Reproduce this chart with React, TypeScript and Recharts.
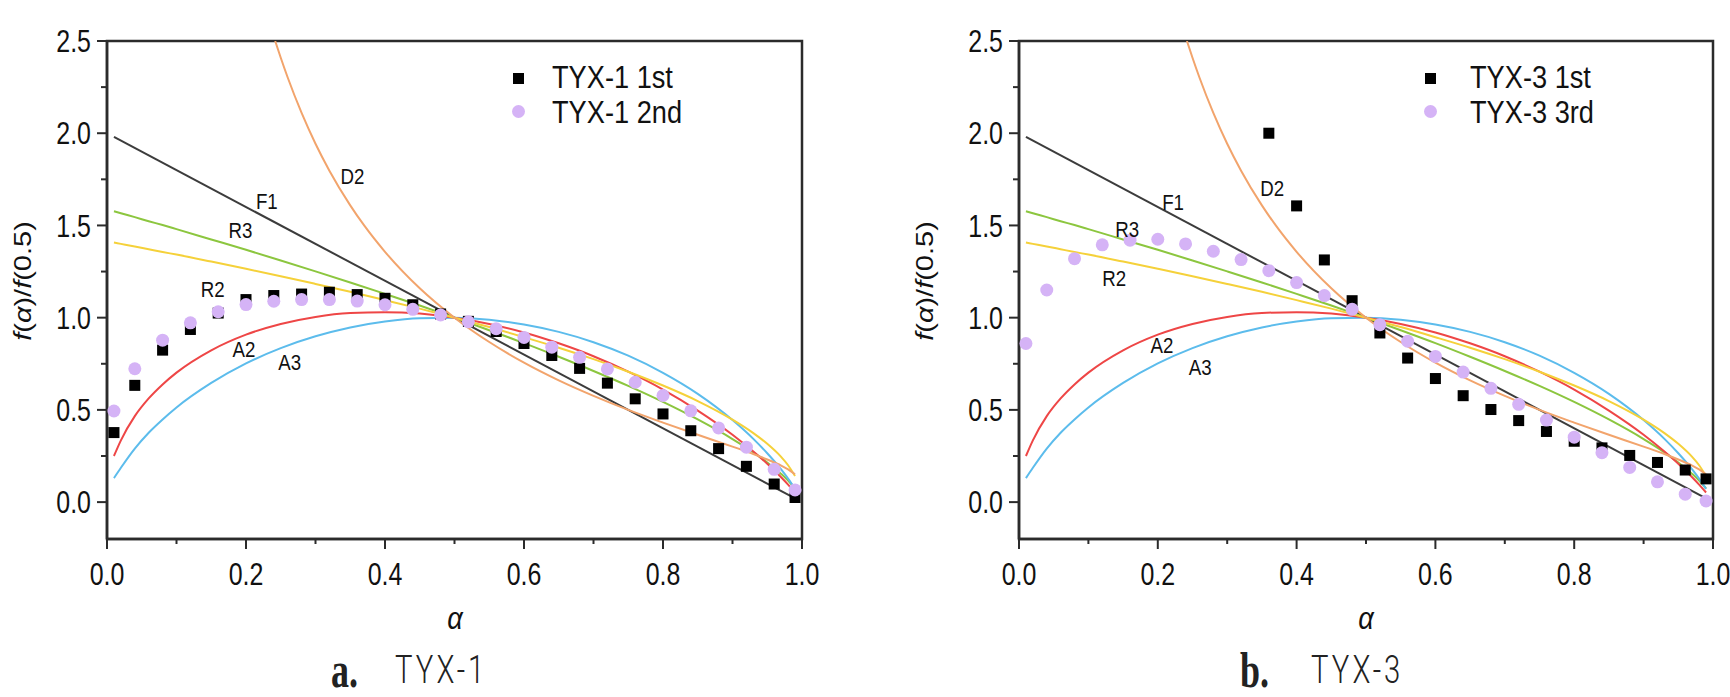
import { ComposedChart, Line, Scatter, XAxis, YAxis, ReferenceArea } from 'recharts';

// Fonts / colours
const FONT = "'Liberation Sans', Arial, sans-serif";
const AXIS = '#2b2b2b';
const COLORS = {
  F1: '#3c3c3c',
  R3: '#8cc63f',
  R2: '#f5d13a',
  A2: '#ee4646',
  A3: '#5cbcec',
  D2: '#f2a46c',
  square: '#000000',
  circle: '#d5b3f6',
};

// ======================
// DATA
// ======================
const X_TICKS = [0, 0.1, 0.2, 0.3, 0.4, 0.5, 0.6, 0.7, 0.8, 0.9, 1.0];
const Y_TICKS = [0, 0.25, 0.5, 0.75, 1.0, 1.25, 1.5, 1.75, 2.0, 2.25, 2.5];

// model master curves, f(α)/f(0.5)
const F1_ALPHA = [0.01, 0.99];
const F1_VALUES = [1.98, 0.02];

const CURVE_ALPHA = [0.01, 0.02, 0.04, 0.06, 0.08, 0.1, 0.15, 0.2, 0.25, 0.3, 0.35, 0.4, 0.45, 0.5, 0.55, 0.6, 0.65, 0.7, 0.75, 0.8, 0.85, 0.9, 0.93, 0.95, 0.97, 0.98, 0.99];
const R2_VALUES = [1.407, 1.4, 1.386, 1.371, 1.356, 1.342, 1.304, 1.265, 1.225, 1.183, 1.14, 1.095, 1.049, 1.0, 0.949, 0.894, 0.837, 0.775, 0.707, 0.632, 0.548, 0.447, 0.374, 0.316, 0.245, 0.2, 0.141];
const R3_VALUES = [1.577, 1.566, 1.545, 1.523, 1.502, 1.48, 1.424, 1.368, 1.31, 1.251, 1.191, 1.129, 1.066, 1.0, 0.932, 0.862, 0.788, 0.711, 0.63, 0.543, 0.448, 0.342, 0.27, 0.215, 0.153, 0.117, 0.074];
const A2_VALUES = [0.25, 0.335, 0.466, 0.562, 0.638, 0.702, 0.823, 0.908, 0.966, 1.004, 1.025, 1.03, 1.022, 1.0, 0.966, 0.92, 0.861, 0.791, 0.707, 0.61, 0.496, 0.365, 0.274, 0.208, 0.135, 0.095, 0.052];
const A3_VALUES = [0.13, 0.186, 0.29, 0.376, 0.448, 0.513, 0.646, 0.752, 0.835, 0.899, 0.947, 0.979, 0.997, 1.0, 0.989, 0.963, 0.923, 0.867, 0.794, 0.701, 0.587, 0.445, 0.343, 0.265, 0.177, 0.127, 0.071];

const D2_ALPHA = [0.242, 0.25, 0.26, 0.28, 0.3, 0.32, 0.35, 0.37, 0.4, 0.45, 0.5, 0.55, 0.6, 0.65, 0.7, 0.75, 0.8, 0.85, 0.9, 0.93, 0.95, 0.97, 0.98, 0.99];
const D2_VALUES = [2.5, 2.409, 2.302, 2.11, 1.943, 1.797, 1.609, 1.5, 1.357, 1.159, 1.0, 0.868, 0.756, 0.66, 0.576, 0.5, 0.431, 0.365, 0.301, 0.261, 0.231, 0.198, 0.177, 0.151];

// experimental points
const POINT_ALPHA = [0.01, 0.04, 0.08, 0.12, 0.16, 0.2, 0.24, 0.28, 0.32, 0.36, 0.4, 0.44, 0.48, 0.52, 0.56, 0.6, 0.64, 0.68, 0.72, 0.76, 0.8, 0.84, 0.88, 0.92, 0.96, 0.99];
const TYX1_1ST = [0.377, 0.633, 0.824, 0.936, 1.025, 1.098, 1.12, 1.128, 1.138, 1.125, 1.105, 1.07, 1.02, 0.98, 0.925, 0.86, 0.795, 0.725, 0.645, 0.56, 0.478, 0.387, 0.29, 0.194, 0.098, 0.025];
const TYX1_2ND = [0.494, 0.723, 0.878, 0.972, 1.032, 1.071, 1.089, 1.098, 1.098, 1.09, 1.07, 1.045, 1.015, 0.978, 0.94, 0.893, 0.84, 0.785, 0.722, 0.65, 0.578, 0.495, 0.402, 0.298, 0.178, 0.066];

const TYX3_1ST_ALPHA = [0.36, 0.4, 0.44, 0.48, 0.52, 0.56, 0.6, 0.64, 0.68, 0.72, 0.76, 0.8, 0.84, 0.88, 0.92, 0.96, 0.99];
const TYX3_1ST = [2.0, 1.606, 1.313, 1.092, 0.917, 0.781, 0.67, 0.577, 0.502, 0.442, 0.383, 0.33, 0.294, 0.253, 0.215, 0.174, 0.126];
const TYX3_3RD = [0.86, 1.15, 1.32, 1.395, 1.42, 1.425, 1.4, 1.36, 1.315, 1.255, 1.19, 1.12, 1.045, 0.962, 0.872, 0.79, 0.705, 0.617, 0.53, 0.445, 0.352, 0.268, 0.188, 0.11, 0.043, 0.006];

// curve name labels (data coordinates of label centre)
const CURVE_NAMES = ['F1', 'R3', 'R2', 'A2', 'A3', 'D2'];
const LABEL_X_A = [0.23, 0.192, 0.152, 0.197, 0.263, 0.353];
const LABEL_Y_A = [1.63, 1.473, 1.153, 0.828, 0.758, 1.765];
const LABEL_X_B = [0.222, 0.156, 0.137, 0.206, 0.261, 0.365];
const LABEL_Y_B = [1.625, 1.476, 1.212, 0.85, 0.73, 1.70];

const zip = (xs: number[], ys: number[]) => xs.map((x, i) => ({ x, y: ys[i] }));

// ======================
// AXIS TICKS
// ======================
function YTick(props: any) {
  const { x, y, payload } = props;
  const v = payload.value as number;
  const major = Math.abs(v * 2 - Math.round(v * 2)) < 1e-6;
  return (
    <g>
      <line x1={x} x2={x - (major ? 10 : 6)} y1={y} y2={y} stroke={AXIS} strokeWidth={2} />
      {major && (
        <text
          transform={`translate(${x - 16},${y}) scale(0.78,1)`}
          textAnchor="end"
          dominantBaseline="central"
          fontSize={32}
          fontFamily={FONT}
          fill="#111"
        >
          {v.toFixed(1)}
        </text>
      )}
    </g>
  );
}

function XTick(props: any) {
  const { x, y, payload, index } = props;
  const major = index % 2 === 0;
  return (
    <g>
      <line x1={x} x2={x} y1={y} y2={y + (major ? 10 : 5)} stroke={AXIS} strokeWidth={2} />
      {major && (
        <text
          transform={`translate(${x},${y + 35}) scale(0.78,1)`}
          textAnchor="middle"
          dominantBaseline="central"
          fontSize={32}
          fontFamily={FONT}
          fill="#111"
        >
          {(payload.value as number).toFixed(1)}
        </text>
      )}
    </g>
  );
}

const SquareShape = (p: any) => (
  <rect x={p.cx - 5.5} y={p.cy - 5.5} width={11} height={11} fill={COLORS.square} />
);
const CircleShape = (p: any) => <circle cx={p.cx} cy={p.cy} r={6.5} fill={COLORS.circle} />;
const LabelShape = (p: any) => (
  <text
    transform={`translate(${p.cx},${p.cy}) scale(0.85,1)`}
    textAnchor="middle"
    dominantBaseline="central"
    fontSize={22}
    fontFamily={FONT}
    fill="#111"
  >
    {p.payload.name}
  </text>
);

// ======================
// ONE PANEL
// ======================
interface PanelProps {
  left: number;
  yAxisWidth: number;
  rightMargin: number;
  squares: { x: number; y: number }[];
  circles: { x: number; y: number }[];
  legend: [string, string];
  legendMarkerX: number;
  legendTextX: number;
  yLabelX: number;
  letter: string;
  letterX: number;
  name: string;
  nameX: number;
  labelX: number[];
  labelY: number[];
}

function Panel(p: PanelProps) {
  const labels = CURVE_NAMES.map((name, i) => ({ x: p.labelX[i], y: p.labelY[i], name }));
  const plotCenter = p.yAxisWidth + (865 - p.yAxisWidth - p.rightMargin) / 2;
  return (
    <div style={{ position: 'absolute', left: p.left, top: 0, width: 865, height: 697 }}>
      <ComposedChart width={865} height={697} margin={{ top: 41, right: p.rightMargin, bottom: 98, left: 0 }}>
        <XAxis
          type="number"
          dataKey="x"
          domain={[0, 1]}
          ticks={X_TICKS}
          interval={0}
          height={60}
          tickSize={0}
          tickMargin={0}
          tick={<XTick />}
          axisLine={{ stroke: AXIS, strokeWidth: 2.5 }}
          tickLine={false}
        />
        <YAxis
          type="number"
          dataKey="y"
          domain={[-0.2, 2.5]}
          ticks={Y_TICKS}
          interval={0}
          allowDataOverflow
          width={p.yAxisWidth}
          tickSize={0}
          tickMargin={0}
          tick={<YTick />}
          axisLine={{ stroke: AXIS, strokeWidth: 2.5 }}
          tickLine={false}
        />
        <ReferenceArea x1={0} x2={1} y1={-0.2} y2={2.5} fill="none" stroke={AXIS} strokeWidth={2.5} ifOverflow="visible" />
        <Line data={zip(F1_ALPHA, F1_VALUES)} dataKey="y" type="linear" stroke={COLORS.F1} strokeWidth={2} dot={false} activeDot={false} isAnimationActive={false} />
        <Line data={zip(CURVE_ALPHA, R3_VALUES)} dataKey="y" type="monotone" stroke={COLORS.R3} strokeWidth={2} dot={false} activeDot={false} isAnimationActive={false} />
        <Line data={zip(CURVE_ALPHA, A3_VALUES)} dataKey="y" type="monotone" stroke={COLORS.A3} strokeWidth={2} dot={false} activeDot={false} isAnimationActive={false} />
        <Line data={zip(CURVE_ALPHA, A2_VALUES)} dataKey="y" type="monotone" stroke={COLORS.A2} strokeWidth={2} dot={false} activeDot={false} isAnimationActive={false} />
        <Line data={zip(CURVE_ALPHA, R2_VALUES)} dataKey="y" type="monotone" stroke={COLORS.R2} strokeWidth={2} dot={false} activeDot={false} isAnimationActive={false} />
        <Line data={zip(D2_ALPHA, D2_VALUES)} dataKey="y" type="monotone" stroke={COLORS.D2} strokeWidth={2} dot={false} activeDot={false} isAnimationActive={false} />
        <Scatter data={p.squares} shape={SquareShape} isAnimationActive={false} />
        <Scatter data={p.circles} shape={CircleShape} isAnimationActive={false} />
        <Scatter data={labels} shape={LabelShape} isAnimationActive={false} />
      </ComposedChart>

      {/* legend */}
      {[0, 1].map((i) => (
        <div key={i}>
          {i === 0 ? (
            <div style={{ position: 'absolute', left: p.legendMarkerX - 5.5, top: 78 - 5.5, width: 11, height: 11, background: COLORS.square }} />
          ) : (
            <div style={{ position: 'absolute', left: p.legendMarkerX - 6.5, top: 111 - 6.5, width: 13, height: 13, borderRadius: '50%', background: COLORS.circle }} />
          )}
          <div
            style={{
              position: 'absolute',
              left: p.legendTextX,
              top: (i === 0 ? 77 : 112) - 20,
              height: 40,
              lineHeight: '40px',
              fontFamily: FONT,
              fontSize: 32,
              color: '#111',
              whiteSpace: 'nowrap',
              transform: 'scaleX(0.85)',
              transformOrigin: 'left center',
            }}
          >
            {p.legend[i]}
          </div>
        </div>
      ))}

      {/* y axis title */}
      <div
        style={{
          position: 'absolute',
          left: p.yLabelX,
          top: 281,
          fontFamily: FONT,
          fontSize: 29,
          color: '#111',
          whiteSpace: 'nowrap',
          transform: 'translate(-50%,-50%) rotate(-90deg) scaleY(0.8)',
        }}
      >
        <i>f</i>(<i>α</i>)/<i>f</i>(0.5)
      </div>

      {/* x axis title */}
      <div
        style={{
          position: 'absolute',
          left: plotCenter,
          top: 618,
          fontFamily: FONT,
          fontSize: 32,
          fontStyle: 'italic',
          color: '#111',
          transform: 'translate(-50%,-50%) scaleX(0.85)',
        }}
      >
        α
      </div>

      {/* caption */}
      <div
        style={{
          position: 'absolute',
          left: p.letterX,
          top: 670,
          fontFamily: "'Liberation Serif', 'Times New Roman', serif",
          fontWeight: 700,
          fontSize: 50,
          color: '#222',
          transform: 'translateY(-50%) scaleX(0.72)',
          transformOrigin: 'left center',
          lineHeight: '50px',
        }}
      >
        {p.letter}
      </div>
      <div
        style={{
          position: 'absolute',
          left: p.nameX,
          top: 670,
          fontFamily: "Roboto, 'Liberation Sans', sans-serif",
          fontWeight: 300,
          fontSize: 39,
          letterSpacing: 4,
          color: '#222',
          whiteSpace: 'nowrap',
          transform: 'translateY(-50%) scaleX(0.75)',
          transformOrigin: 'left center',
          lineHeight: '40px',
        }}
      >
        {p.name}
      </div>
    </div>
  );
}

export default function App() {
  return (
    <div style={{ position: 'absolute', left: 0, top: 0, width: 1730, height: 697, background: '#fff', overflow: 'hidden' }}>
      <Panel
        left={0}
        yAxisWidth={107}
        rightMargin={63}
        squares={zip(POINT_ALPHA, TYX1_1ST)}
        circles={zip(POINT_ALPHA, TYX1_2ND)}
        legend={['TYX-1 1st', 'TYX-1 2nd']}
        legendMarkerX={518}
        legendTextX={552}
        yLabelX={23}
        letter="a."
        letterX={331}
        name="TYX-1"
        nameX={395}
        labelX={LABEL_X_A}
        labelY={LABEL_Y_A}
      />
      <Panel
        left={865}
        yAxisWidth={154}
        rightMargin={17}
        squares={zip(TYX3_1ST_ALPHA, TYX3_1ST)}
        circles={zip(POINT_ALPHA, TYX3_3RD)}
        legend={['TYX-3 1st', 'TYX-3 3rd']}
        legendMarkerX={565}
        legendTextX={605}
        yLabelX={60}
        letter="b."
        letterX={375}
        name="TYX-3"
        nameX={446}
        labelX={LABEL_X_B}
        labelY={LABEL_Y_B}
      />
    </div>
  );
}
